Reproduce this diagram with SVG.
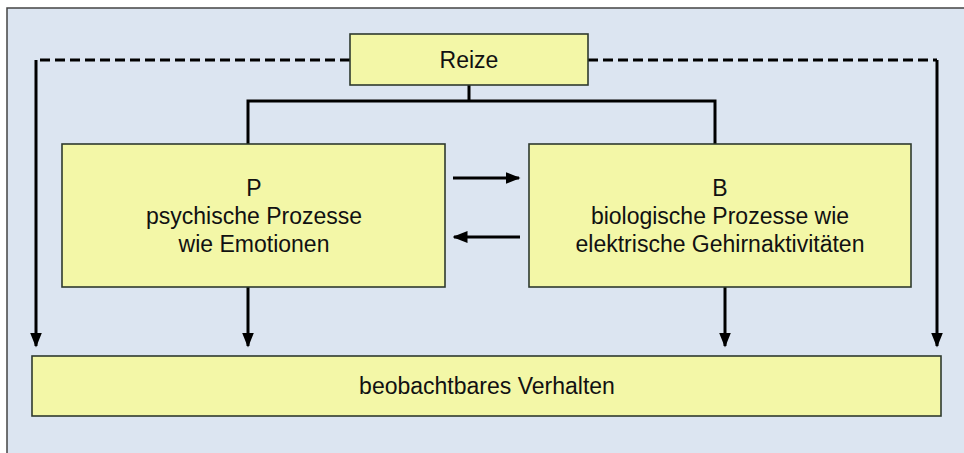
<svg xmlns="http://www.w3.org/2000/svg" width="964" height="453" viewBox="0 0 964 453">
<style>
.box{fill:#f3f7a7;stroke:#2f3a2f;stroke-width:1.6}
.ln{fill:none;stroke:#000;stroke-width:3}
.ds{fill:none;stroke:#000;stroke-width:3;stroke-dasharray:10,5}
text{font-family:"Liberation Sans",Arial,sans-serif;font-size:23px;fill:#111;text-anchor:middle}
</style>
<defs>
<marker id="ah" markerWidth="5" markerHeight="4" refX="4.5" refY="2" orient="auto" markerUnits="strokeWidth">
<path d="M0,0 L5,2 L0,4 Z" fill="#000"/>
</marker>
</defs>
<rect x="0" y="0" width="964" height="453" fill="#fff"/>
<rect x="7" y="8" width="970" height="460" fill="#dce5f1" stroke="#444" stroke-width="1.5"/>
<g id="connectors">
<path class="ds" d="M350,60 H36"/>
<path class="ln" d="M36,60 V346" marker-end="url(#ah)"/>
<path class="ds" d="M588,60 H937"/>
<path class="ln" d="M937,60 V346" marker-end="url(#ah)"/>
<path class="ln" d="M469,85 V101 M248,144 V101 H715 V144"/>
<path class="ln" d="M248,287 V346" marker-end="url(#ah)"/>
<path class="ln" d="M725,287 V346" marker-end="url(#ah)"/>
<path class="ln" d="M453,178 H519" marker-end="url(#ah)"/>
<path class="ln" d="M520,237 H454" marker-end="url(#ah)"/>
</g>
<g id="reize">
<rect class="box" x="350" y="34" width="238" height="51"/>
<text x="469" y="68">Reize</text>
</g>
<g id="p">
<rect class="box" x="62" y="144" width="383" height="143"/>
<text x="254" y="196">P</text>
<text x="254" y="224">psychische Prozesse</text>
<text x="254" y="252">wie Emotionen</text>
</g>
<g id="b">
<rect class="box" x="529" y="144" width="382" height="143"/>
<text x="720" y="196">B</text>
<text x="720" y="224">biologische Prozesse wie</text>
<text x="720" y="252">elektrische Gehirnaktivitäten</text>
</g>
<g id="verhalten">
<rect class="box" x="32" y="356" width="909" height="60"/>
<text x="487" y="394">beobachtbares Verhalten</text>
</g>
</svg>
